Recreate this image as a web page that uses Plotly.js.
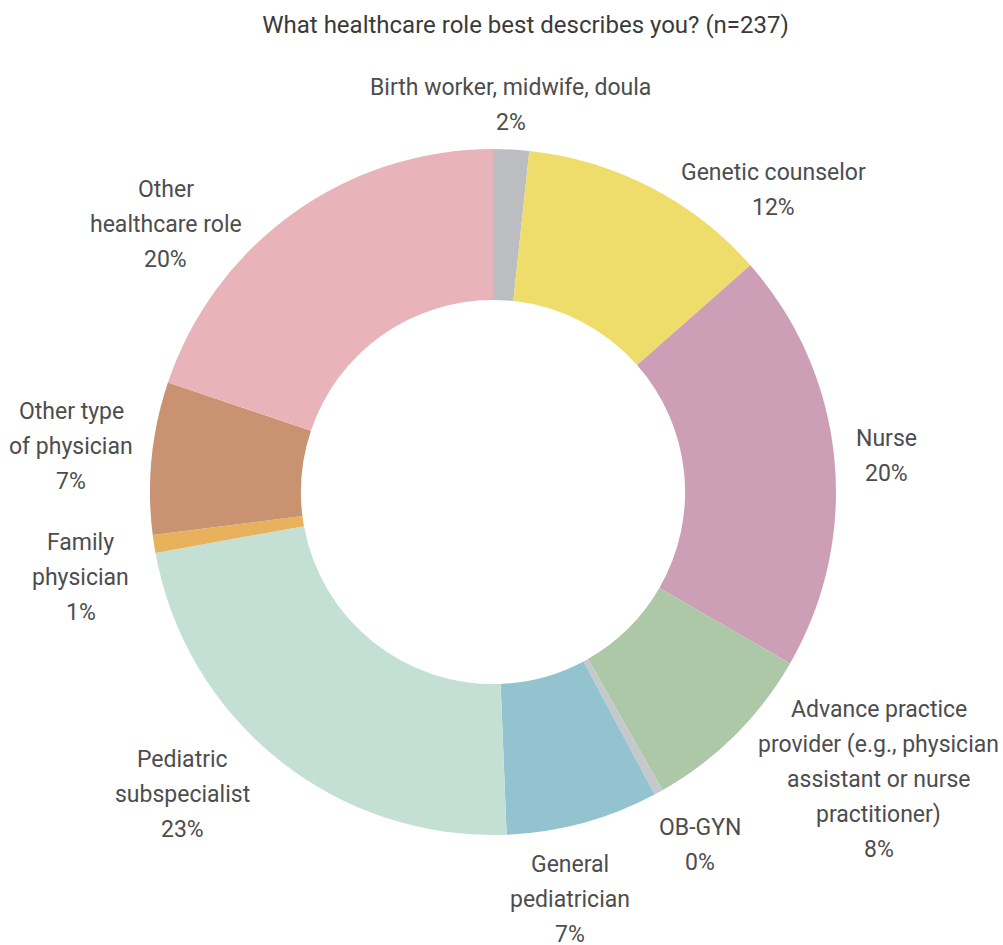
<!DOCTYPE html>
<html>
<head>
<meta charset="utf-8">
<script src="https://cdn.plot.ly/plotly-3.0.1.min.js"></script>
<style>html,body{margin:0;padding:0;background:#fff;}#chart{width:1003px;height:945px;}</style>
</head>
<body>
<div id="chart"></div>
<script>
// ---- data ----
const categories = [
  "Birth worker, midwife, doula",
  "Genetic counselor",
  "Nurse",
  "Advance practice<br>provider (e.g., physician<br>assistant or nurse<br>practitioner)",
  "OB-GYN",
  "General<br>pediatrician",
  "Pediatric<br>subspecialist",
  "Family<br>physician",
  "Other type<br>of physician",
  "Other<br>healthcare role"
];
const counts = [4, 28, 47, 20, 1, 17, 54, 2, 17, 47];
const colors = ["#bcbdc1", "#eedd6b", "#cc9fb7", "#adc8a6", "#c6c9cc", "#92c3ce", "#c4e0d5", "#e8b25d", "#c99371", "#e9b4b9"];

// ---- label layout (angle nudge in degrees from slice middle, distance from centre in px) ----
const labelNudge = [-0.4, 15.6, 0.5, -8.5, -1.5, 4.5, 7, -3, 0.5, -15];
const labelDist  = [387, 412, 395, 481, 409, 415, 433, 421, 424, 423];

const FONT = "Roboto, 'DejaVu Sans Condensed', sans-serif";
const W = 1003, H = 945;
const M = {l: 150, r: 167, t: 149, b: 110};
const PW = W - M.l - M.r, PH = H - M.t - M.b;
const LINE = 35;

const total = counts.reduce((a, b) => a + b, 0);
const annotations = [];
let cum = 0;
counts.forEach((v, i) => {
  const mid = (cum + v / 2) / total * 360;
  cum += v;
  const a = (mid + labelNudge[i]) * Math.PI / 180;
  const dx = labelDist[i] * Math.sin(a);
  const dy = -labelDist[i] * Math.cos(a);
  const lines = categories[i].split('<br>').concat([Math.round(v / total * 100) + '%']);
  lines.forEach((t, k) => {
    const oy = dy + (k - (lines.length - 1) / 2) * LINE;
    annotations.push({
      xref: 'paper', yref: 'paper',
      x: 0.5 + dx / PW, y: 0.5 - oy / PH,
      xanchor: 'center', yanchor: 'middle',
      text: t, showarrow: false,
      font: {family: FONT, size: 23, color: '#4d4d4d'}
    });
  });
});

Plotly.newPlot('chart', [{
  type: 'pie',
  labels: categories,
  values: counts,
  hole: 0.56,
  sort: false,
  direction: 'clockwise',
  rotation: 0,
  marker: {colors: colors, line: {width: 0}},
  textinfo: 'none',
  hoverinfo: 'label+percent',
  showlegend: false
}], {
  width: W, height: H,
  margin: M,
  paper_bgcolor: '#ffffff',
  title: {text: 'What healthcare role best describes you? (n=237)', x: 0.524, xanchor: 'center',
          y: 1 - 25 / H, yanchor: 'middle', yref: 'container', xref: 'container',
          font: {family: FONT, size: 24, weight: 400, color: '#3a3a3a'}},
  annotations: annotations,
  showlegend: false
}, {displayModeBar: false});
</script>
</body>
</html>
